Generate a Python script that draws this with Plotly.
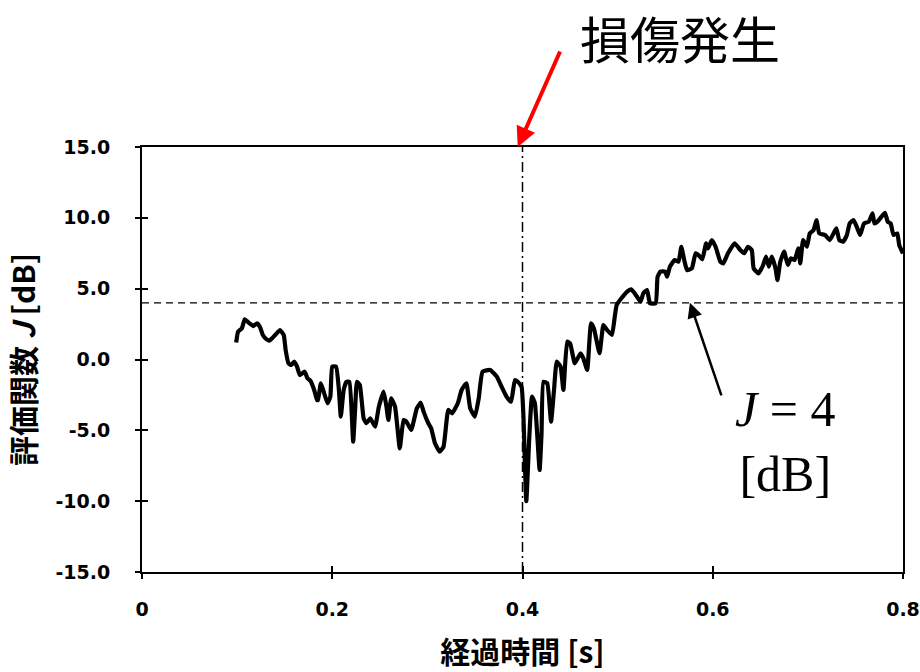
import plotly.graph_objects as go

# time [s]
time_s = [0.099, 0.101, 0.105, 0.108, 0.111, 0.113, 0.117, 0.121, 0.124, 0.127,
          0.131, 0.134, 0.140, 0.145, 0.149, 0.151, 0.154, 0.157, 0.160, 0.163,
          0.166, 0.171, 0.174, 0.177, 0.181, 0.184, 0.185, 0.188, 0.191, 0.195,
          0.198, 0.200, 0.204, 0.207, 0.209, 0.212, 0.215, 0.218, 0.222, 0.224,
          0.226, 0.229, 0.233, 0.236, 0.240, 0.245, 0.249, 0.254, 0.257, 0.259,
          0.262, 0.266, 0.271, 0.275, 0.278, 0.283, 0.289, 0.293, 0.296, 0.301,
          0.304, 0.308, 0.313, 0.317, 0.322, 0.326, 0.332, 0.336, 0.341, 0.345,
          0.350, 0.354, 0.358, 0.366, 0.373, 0.378, 0.383, 0.388, 0.392, 0.395,
          0.399, 0.401, 0.404, 0.407, 0.410, 0.413, 0.418, 0.420, 0.422, 0.426,
          0.430, 0.433, 0.436, 0.440, 0.443, 0.447, 0.450, 0.455, 0.461, 0.464,
          0.468, 0.472, 0.475, 0.481, 0.485, 0.489, 0.494, 0.497, 0.499, 0.504,
          0.510, 0.514, 0.518, 0.524, 0.527, 0.531, 0.534, 0.540, 0.542, 0.545,
          0.550, 0.552, 0.555, 0.560, 0.564, 0.567, 0.570, 0.573, 0.578, 0.582,
          0.585, 0.589, 0.593, 0.595, 0.599, 0.603, 0.608, 0.611, 0.616, 0.623,
          0.629, 0.633, 0.637, 0.641, 0.643, 0.648, 0.653, 0.656, 0.659, 0.662,
          0.666, 0.668, 0.671, 0.675, 0.679, 0.682, 0.686, 0.690, 0.692, 0.695,
          0.699, 0.702, 0.706, 0.709, 0.712, 0.718, 0.723, 0.727, 0.730, 0.733,
          0.737, 0.741, 0.744, 0.748, 0.752, 0.755, 0.759, 0.764, 0.768, 0.770,
          0.773, 0.776, 0.781, 0.784, 0.787, 0.790, 0.794, 0.796, 0.800]

# evaluation function J [dB]
j_db = [1.2, 1.96, 2.2, 2.84, 2.67, 2.55, 2.36, 2.55, 2.3, 1.73,
        1.42, 1.33, 1.73, 2.08, 1.73, 0.67, -0.27, -0.39, -0.15, -0.5,
        -1.1, -0.86, -1.33, -1.5, -2.15, -2.86, -2.86, -1.68, -2.27, -3.09,
        -2.62, -0.5, -0.5, -2.15, -4.03, -2.15, -1.57, -1.57, -5.8, -3.56,
        -1.57, -1.8, -4.15, -4.5, -4.15, -4.74, -3.33, -2.27, -3.33, -4.27,
        -2.74, -3.33, -6.27, -4.27, -4.39, -4.97, -3.44, -3.05, -3.68, -4.5,
        -4.86, -5.91, -6.5, -6.15, -3.56, -3.8, -3.09, -2.15, -1.68, -3.44,
        -4.03, -2.74, -0.86, -0.74, -1.21, -1.92, -2.6, -2.98, -1.45, -1.57,
        -1.92, -4.04, -10.0, -5.68, -2.62, -3.09, -7.8, -5.21, -1.57, -1.68,
        -4.39, -2.27, -0.15, -0.5, -2.15, 1.26, 1.14, -0.27, 0.44, 0.08,
        -0.74, 2.55, 2.2, 0.44, 2.43, 2.08, 1.73, 3.02, 3.85, 4.32,
        4.79, 4.95, 4.67, 4.08, 4.67, 4.9, 3.97, 3.97, 5.84, 6.2,
        6.2, 5.84, 6.55, 7.02, 6.9, 7.96, 7.02, 6.31, 6.43, 7.5,
        7.37, 7.07, 8.2, 7.84, 8.43, 7.96, 6.9, 6.78, 7.5, 8.2,
        7.73, 7.5, 7.96, 7.73, 6.43, 6.08, 6.67, 7.26, 6.55, 7.26,
        6.43, 5.61, 6.9, 7.61, 6.67, 7.14, 7.02, 7.84, 6.78, 8.43,
        7.96, 8.9, 9.14, 9.84, 8.9, 8.79, 8.43, 8.9, 9.26, 8.43,
        8.31, 8.79, 9.61, 9.84, 9.26, 8.79, 9.61, 9.72, 10.32, 9.61,
        9.72, 9.96, 10.36, 9.72, 9.61, 8.79, 8.9, 8.08, 7.49]

x_range = [0, 0.8]
y_range = [-15, 15]
x_ticks = [0, 0.2, 0.4, 0.6, 0.8]
x_tick_labels = ["0", "0.2", "0.4", "0.6", "0.8"]
y_ticks = [-15, -10, -5, 0, 5, 10, 15]
y_tick_labels = ["-15.0", "-10.0", "-5.0", "0.0", "5.0", "10.0", "15.0"]
threshold_db = 4
damage_time = 0.4

tick_font = dict(family="DejaVu Sans", size=19, color="black", weight="bold")
cjk_bold = dict(family="Noto Sans CJK JP", size=30, color="black", weight="bold")

fig = go.Figure()

# threshold line J = 4 dB
fig.add_trace(go.Scatter(x=x_range, y=[threshold_db, threshold_db], mode="lines",
                         line=dict(color="black", width=1.3, dash="7px,5px"),
                         hoverinfo="skip", showlegend=False))
# damage occurrence line
fig.add_trace(go.Scatter(x=[damage_time, damage_time], y=y_range, mode="lines",
                         line=dict(color="black", width=1.5, dash="10px,4px,2px,4px"),
                         hoverinfo="skip", showlegend=False))
# data
fig.add_trace(go.Scatter(x=time_s, y=j_db, mode="lines",
                         line=dict(color="black", width=4.2, shape="spline", smoothing=0.4),
                         showlegend=False))
# dummy trace for inner ticks
fig.add_trace(go.Scatter(x=[], y=[], xaxis="x2", yaxis="y2", showlegend=False))

fig.update_layout(
    width=920, height=672,
    margin=dict(l=142, r=17, t=147, b=100, autoexpand=False),
    plot_bgcolor="white", paper_bgcolor="white",
    xaxis=dict(range=x_range, tickvals=x_ticks, ticktext=x_tick_labels,
               showgrid=False, zeroline=False, showline=True, linecolor="black",
               linewidth=2, mirror=True, ticks="outside", ticklen=5, tickwidth=1.5,
               tickcolor="black", tickfont=tick_font, ticklabelstandoff=14,
               automargin=False,
               title=dict(text="経過時間 [s]", font=cjk_bold, standoff=24)),
    yaxis=dict(range=y_range, tickvals=y_ticks, ticktext=y_tick_labels,
               showgrid=False, zeroline=False, showline=True, linecolor="black",
               linewidth=2, mirror=True, ticks="outside", ticklen=5, tickwidth=1.5,
               tickcolor="black", tickfont=tick_font, ticklabelstandoff=21,
               automargin=False,
               title=dict(text="評価関数 <i>J</i> [dB]", font=cjk_bold, standoff=16)),
    xaxis2=dict(range=x_range, overlaying="x", tickvals=x_ticks, showticklabels=False,
                ticks="inside", ticklen=6, tickwidth=1.5, tickcolor="black",
                showgrid=False, zeroline=False, showline=False, automargin=False),
    yaxis2=dict(range=y_range, overlaying="y", tickvals=y_ticks, showticklabels=False,
                ticks="inside", ticklen=6, tickwidth=1.5, tickcolor="black",
                showgrid=False, zeroline=False, showline=False, automargin=False),
)

fig.add_annotation(x=0.395, y=15, xref="x", yref="y", ax=43, ay=-97,
                   axref="pixel", ayref="pixel", showarrow=True, arrowhead=2,
                   arrowsize=1, arrowwidth=4, arrowcolor="#ff0000", text="")
fig.add_annotation(x=0.707, y=1.26, xref="paper", yref="paper",
                   text="損傷発生", showarrow=False, xanchor="center", yanchor="middle",
                   font=dict(family="Noto Sans CJK JP", size=50, color="black"))
fig.add_annotation(x=0.576, y=threshold_db, xref="x", yref="y", ax=32, ay=94,
                   axref="pixel", ayref="pixel", showarrow=True, arrowhead=2,
                   arrowsize=1.2, arrowwidth=2.5, arrowcolor="black", text="")
fig.add_annotation(x=0.6755, y=-5.8, xref="x", yref="y",
                   text="<i>J</i> = 4<br>[dB]", showarrow=False,
                   xanchor="center", yanchor="middle",
                   font=dict(family="Liberation Serif", size=50, color="black"))

fig.write_html("out.html", config={"displayModeBar": False},
               post_script="document.body.style.margin='0';")
